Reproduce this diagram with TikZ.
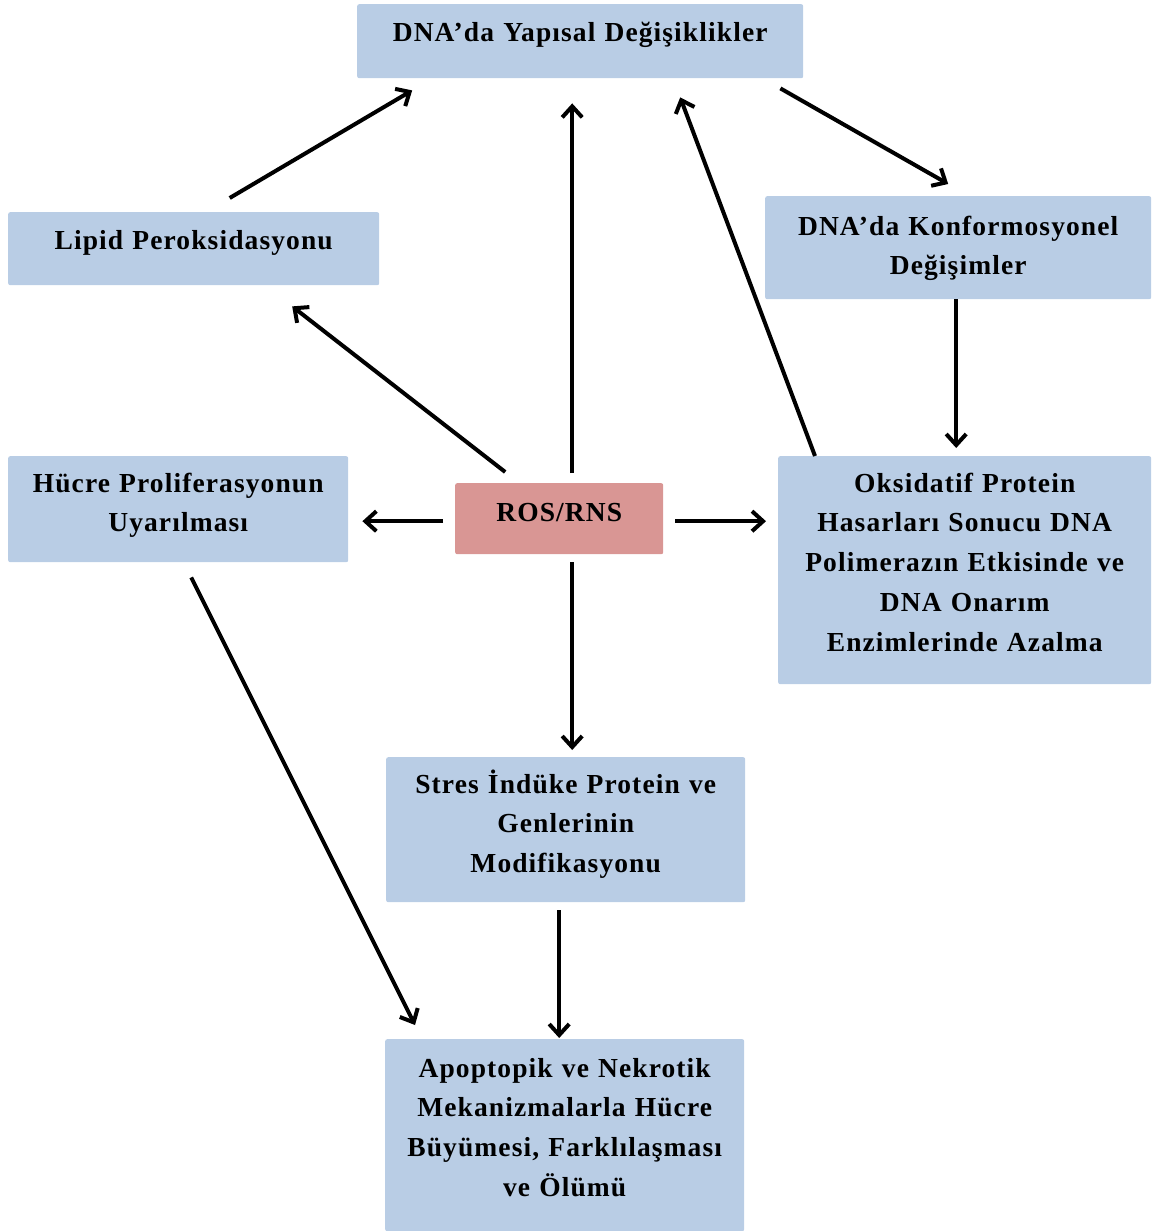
\documentclass[tikz,border=0pt]{standalone}
\usepackage{fontspec}
\usepackage{xcolor}
\usepackage{tikz}
\usetikzlibrary{arrows.meta}
\newfontfamily\kutuyazi{Liberation Serif}[LetterSpace=4]
\definecolor{maviKutu}{HTML}{B9CDE5}
\definecolor{kirmiziKutu}{HTML}{D99694}

\begin{document}
\begin{tikzpicture}[->,>={Straight Barb[length=11pt,width=20pt]},x=1pt,y=-1pt]
		\tikzstyle{kutu}=[fill=maviKutu, rounded corners=2pt, anchor=north west, inner sep=0pt,
			align=center, text height=37pt, font=\kutuyazi\bfseries\fontsize{27.5}{39.7}\selectfont]
		\useasboundingbox (0,0) rectangle (1151,1231);

		\node[kutu, text width=446pt, text depth=37pt] (dna) at (357,4) {DNA’da Yapısal Değişiklikler};
		\node[kutu, text width=371pt, text depth=36pt] (lipid) at (8,212) {Lipid Peroksidasyonu};
		\node[kutu, text width=386pt, text height=39pt, text depth=64pt] (konf) at (765,196) {DNA’da Konformosyonel\\Değişimler};
		\node[kutu, text width=340pt, text height=36pt, text depth=70pt] (hucre) at (8,456) {Hücre Proliferasyonun\\Uyarılması};
		\node[kutu, fill=kirmiziKutu, text width=208pt, text height=38pt, text depth=33pt] (ros) at (455,483) {ROS/RNS};
		\node[kutu, text width=373pt, text height=36pt, text depth=192pt] (oks) at (778,456) {Oksidatif Protein\\Hasarları Sonucu DNA\\Polimerazın Etkisinde ve\\DNA Onarım\\Enzimlerinde Azalma};
		\node[kutu, text width=359pt, text height=36pt, text depth=109pt] (stres) at (386,757) {Stres İndüke Protein ve\\Genlerinin\\Modifikasyonu};
		\node[kutu, text width=359pt, text height=38pt, text depth=154pt] (apop) at (385,1039) {Apoptopik ve Nekrotik\\Mekanizmalarla Hücre\\Büyümesi, Farklılaşması\\ve Ölümü};

		\path[line width=4pt]
				([shift={(36,-14)}]lipid.north)   edge ([shift={(-168,12)}]dna.south)
				([shift={(13,-10)}]ros.north)     edge ([shift={(-8,25)}]dna.south)
				([shift={(37,0)}]oks.north west)  edge ([shift={(100,19)}]dna.south)
				([shift={(-23,10)}]dna.south east) edge ([shift={(-10,-12)}]konf.north)
				([shift={(-2,0)}]konf.south)      edge ([shift={(-8.5,-8)}]oks.north)
				([shift={(-54,-11)}]ros.north)    edge ([shift={(98.5,21)}]lipid.south)
				([shift={(-12,2.5)}]ros.west)     edge ([shift={(14,12)}]hucre.east)
				([shift={(12,2.5)}]ros.east)      edge ([shift={(-12,-49)}]oks.west)
				([shift={(13,8)}]ros.south)       edge ([shift={(6.5,-7)}]stres.north)
				([shift={(-6.5,8)}]stres.south)   edge ([shift={(-5.5,-1)}]apop.north)
				([shift={(13,15)}]hucre.south)    edge ([shift={(30,-14)}]apop.north west);
	\end{tikzpicture}
\end{document}
